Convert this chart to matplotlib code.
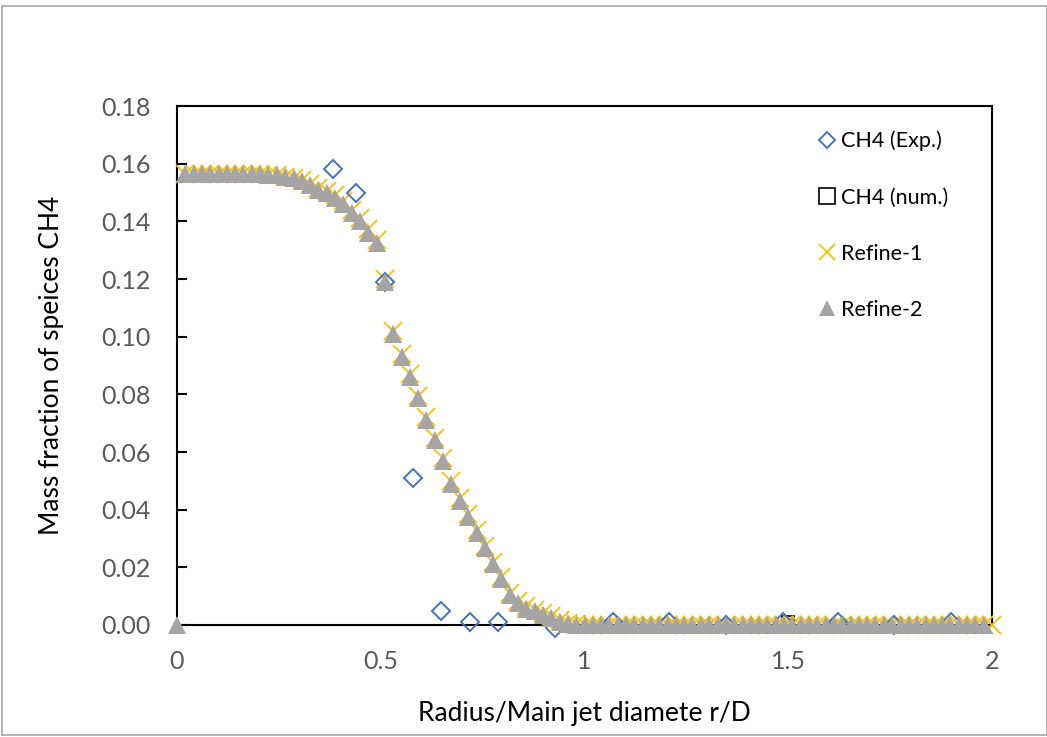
import matplotlib
matplotlib.use('Agg')
import matplotlib.pyplot as plt
from matplotlib.patches import Rectangle
from matplotlib.lines import Line2D

plt.rcParams['font.family'] = ['Lato', 'DejaVu Sans']

# radial stations r/D of the mesh (step 1/49)
r_grid = [
    0.000, 0.020, 0.041, 0.061, 0.082, 0.102, 0.122, 0.143, 0.163, 0.184,
    0.204, 0.224, 0.245, 0.265, 0.286, 0.306, 0.327, 0.347, 0.367, 0.388,
    0.408, 0.429, 0.449, 0.469, 0.490, 0.510, 0.531, 0.551, 0.571, 0.592,
    0.612, 0.633, 0.653, 0.673, 0.694, 0.714, 0.735, 0.755, 0.776, 0.796,
    0.816, 0.837, 0.857, 0.878, 0.898, 0.918, 0.939, 0.959, 0.980, 1.000,
    1.020, 1.041, 1.061, 1.082, 1.102, 1.122, 1.143, 1.163, 1.184, 1.204,
    1.224, 1.245, 1.265, 1.286, 1.306, 1.327, 1.347, 1.367, 1.388, 1.408,
    1.429, 1.449, 1.469, 1.490, 1.510, 1.531, 1.551, 1.571, 1.592, 1.612,
    1.633, 1.653, 1.673, 1.694, 1.714, 1.735, 1.755, 1.776, 1.796, 1.816,
    1.837, 1.857, 1.878, 1.898, 1.918, 1.939, 1.959, 1.980, 2.000,
]

# CH4 mass fraction on the refined meshes
refine2 = [
    0.0000, 0.1565, 0.1565, 0.1565, 0.1565, 0.1565, 0.1565, 0.1565, 0.1565, 0.1565,
    0.1565, 0.1560, 0.1560, 0.1555, 0.1550, 0.1540, 0.1525, 0.1510, 0.1500, 0.1480,
    0.1460, 0.1430, 0.1400, 0.1360, 0.1325, 0.1190, 0.1010, 0.0930, 0.0860, 0.0787,
    0.0710, 0.0640, 0.0570, 0.0490, 0.0430, 0.0375, 0.0320, 0.0267, 0.0210, 0.0160,
    0.0104, 0.0075, 0.0057, 0.0047, 0.0035, 0.0023, 0.0012, 0.0003, 0.0000, 0.0000,
    0.0, 0.0, 0.0, 0.0, 0.0, 0.0, 0.0, 0.0, 0.0, 0.0,
    0.0, 0.0, 0.0, 0.0, 0.0, 0.0, 0.0, 0.0, 0.0, 0.0,
    0.0, 0.0, 0.0, 0.0, 0.0, 0.0, 0.0, 0.0, 0.0, 0.0,
    0.0, 0.0, 0.0, 0.0, 0.0, 0.0, 0.0, 0.0, 0.0, 0.0,
    0.0, 0.0, 0.0, 0.0, 0.0, 0.0, 0.0, 0.0,
]
refine1 = [
    0.1565, 0.1565, 0.1565, 0.1565, 0.1565, 0.1565, 0.1565, 0.1565, 0.1565,
    0.1565, 0.1560, 0.1560, 0.1555, 0.1550, 0.1545, 0.1530, 0.1515, 0.1505, 0.1490,
    0.1470, 0.1440, 0.1410, 0.1375, 0.1335, 0.1200, 0.1020, 0.0940, 0.0870, 0.0795,
    0.0720, 0.0650, 0.0580, 0.0500, 0.0440, 0.0385, 0.0330, 0.0275, 0.0220, 0.0168,
    0.0112, 0.0083, 0.0065, 0.0053, 0.0042, 0.0030, 0.0018, 0.0008, 0.0002, 0.0000,
    0.0, 0.0, 0.0, 0.0, 0.0, 0.0, 0.0, 0.0, 0.0, 0.0,
    0.0, 0.0, 0.0, 0.0, 0.0, 0.0, 0.0, 0.0, 0.0, 0.0,
    0.0, 0.0, 0.0, 0.0, 0.0, 0.0, 0.0, 0.0, 0.0, 0.0,
    0.0, 0.0, 0.0, 0.0, 0.0, 0.0, 0.0, 0.0, 0.0, 0.0,
    0.0, 0.0, 0.0, 0.0, 0.0, 0.0, 0.0, 0.0, 0.0,
]

# measured profile
r_exp = [0.383, 0.439, 0.510, 0.579, 0.648, 0.719, 0.788, 0.928,
         1.069, 1.208, 1.348, 1.487, 1.622, 1.760, 1.900]
ch4_exp = [0.158, 0.150, 0.119, 0.051, 0.005, 0.001, 0.001, -0.001,
           0.001, 0.001, 0.000, 0.001, 0.001, 0.000, 0.001]

# baseline numerical run
r_num = [1.5]
ch4_num = [0.001]

labels = ['CH4 (Exp.)', 'CH4 (num.)', 'Refine-1', 'Refine-2']
y_ticks = [0.00, 0.02, 0.04, 0.06, 0.08, 0.10, 0.12, 0.14, 0.16, 0.18]
x_ticks = [0, 0.5, 1, 1.5, 2]

exp_color = '#4472C4'
ref1_color = '#FFC000'
ref2_color = '#A5A5A5'
tick_color = '#595959'

fig = plt.figure(figsize=(10.47, 7.37), dpi=100)
ax = fig.add_axes([177 / 1047, 1 - 625 / 737, 815 / 1047, 519 / 737])

# chart area border
fig.patches.append(Rectangle((2 / 1047, 2 / 737), 1 - 2 / 1047, 1 - 8 / 737,
                             transform=fig.transFigure, fill=False,
                             edgecolor='#a6a6a6', linewidth=1.2))

ax.plot(r_num, ch4_num, linestyle='none', marker='s', ms=8, mfc='none',
        mec='black', mew=1.2, clip_on=False, zorder=3)
ax.plot(r_grid[1:], refine1, linestyle='none', marker='x', ms=13,
        mec=ref1_color, mew=1.3, clip_on=False, zorder=4)
ax.plot(r_exp, ch4_exp, linestyle='none', marker='D', ms=9.5, mfc='none',
        mec=exp_color, mew=1.4, clip_on=False, zorder=4)
ax.plot(r_grid[:len(refine2)], refine2, linestyle='none', marker='^', ms=12.5,
        mfc=ref2_color, mec=ref2_color, mew=0, clip_on=False, zorder=5)

ax.set_xlim(0, 2)
ax.set_ylim(0, 0.18)
ax.set_xticks(x_ticks)
ax.set_xticklabels(['0', '0.5', '1', '1.5', '2'])
ax.set_yticks(y_ticks)
ax.set_yticklabels([f'{v:.2f}' for v in y_ticks])

for side in ['left', 'right', 'top', 'bottom']:
    ax.spines[side].set_linewidth(1.5)
    ax.spines[side].set_color('black')
    ax.spines[side].set_zorder(2)

ax.tick_params(axis='y', direction='in', length=7, width=1.5, color='black',
               labelsize=18, labelcolor=tick_color, pad=19)
ax.tick_params(axis='x', length=0, labelsize=18, labelcolor=tick_color, pad=18)

ax.set_xlabel('Radius/Main jet diamete r/D', fontsize=19, labelpad=20)
ax.set_ylabel('Mass fraction of speices CH4', fontsize=19, labelpad=27)

handles = [
    Line2D([], [], linestyle='none', marker='D', ms=8, mfc='none',
           mec=exp_color, mew=1.4),
    Line2D([], [], linestyle='none', marker='s', ms=11, mfc='none',
           mec='black', mew=1.2),
    Line2D([], [], linestyle='none', marker='x', ms=11.5, mec=ref1_color, mew=1.3),
    Line2D([], [], linestyle='none', marker='^', ms=12, mfc=ref2_color,
           mec=ref2_color, mew=0),
]
ax.legend(handles, labels, loc='upper left', bbox_to_anchor=(808 / 1047, 1 - 120 / 737),
          bbox_transform=fig.transFigure, frameon=False, fontsize=15.5,
          handlelength=0.8, handletextpad=0.25, labelspacing=1.68, borderpad=0)

fig.savefig('out.png', dpi=100)
